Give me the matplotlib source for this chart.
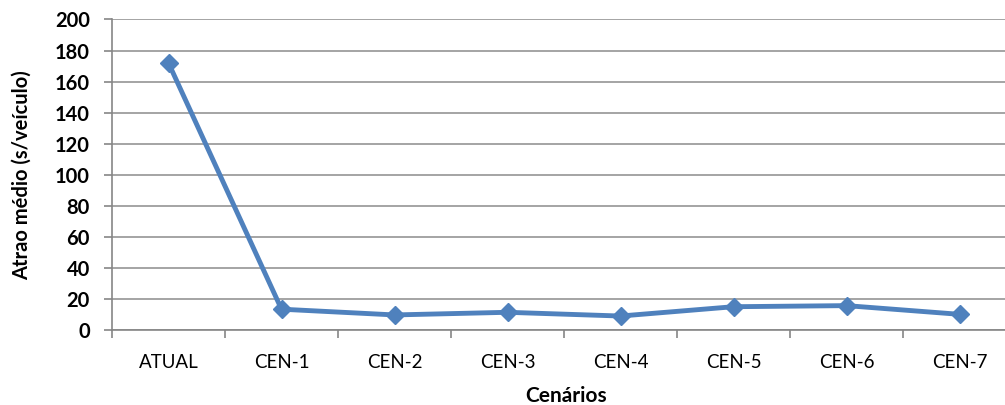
import matplotlib.pyplot as plt
from matplotlib.ticker import FixedLocator

# atraso médio por cenário
cenarios = ["ATUAL", "CEN-1", "CEN-2", "CEN-3", "CEN-4", "CEN-5", "CEN-6", "CEN-7"]
atraso = [172, 13.4, 9.7, 11.4, 9.0, 15.0, 15.7, 10.1]

plt.rcParams["font.family"] = ["Lato", "DejaVu Sans"]

fig = plt.figure(figsize=(10.05, 4.05), dpi=100)
ax = fig.add_axes([112 / 1005, 75 / 405, 893 / 1005, 310.5 / 405])

x = list(range(len(cenarios)))
ax.plot(x, atraso, color="#4F81BD", linewidth=3.5, marker="D",
        markersize=9, zorder=3, clip_on=False)

ax.set_ylim(0, 200)
ax.set_yticks(range(0, 201, 20))
ax.set_xlim(-0.5, -0.5 + 893 / 113)
ax.set_xticks(x)
ax.set_xticklabels(cenarios, fontsize=13.5)
ax.xaxis.set_minor_locator(FixedLocator([i + 0.5 for i in range(-1, 8)]))
ax.tick_params(axis="x", which="major", length=0, pad=17)
ax.tick_params(axis="x", which="minor", length=6, color="#868686", width=1.2)
ax.tick_params(axis="y", length=6, color="#868686", width=1.2, pad=10)
for lab in ax.get_yticklabels():
    lab.set_fontweight("bold")
    lab.set_fontsize(14.5)

ax.grid(axis="y", color="#8c8c8c", linewidth=1.1)
ax.set_axisbelow(True)
for s in ["top", "right"]:
    ax.spines[s].set_visible(False)
for s in ["left", "bottom"]:
    ax.spines[s].set_color("#868686")
    ax.spines[s].set_linewidth(1.2)

ax.set_xlabel("Cenários", fontsize=15, fontweight="bold", va="center")
ax.set_ylabel("Atrao médio (s/veículo)", fontsize=14.5, fontweight="bold", va="center")
ax.xaxis.set_label_coords(0.5 + (566 - 558.5) / 893, (330 - 396) / 310.5)
ax.yaxis.set_label_coords((22 - 112) / 893, 0.5)

fig.savefig("out.png", dpi=100)
